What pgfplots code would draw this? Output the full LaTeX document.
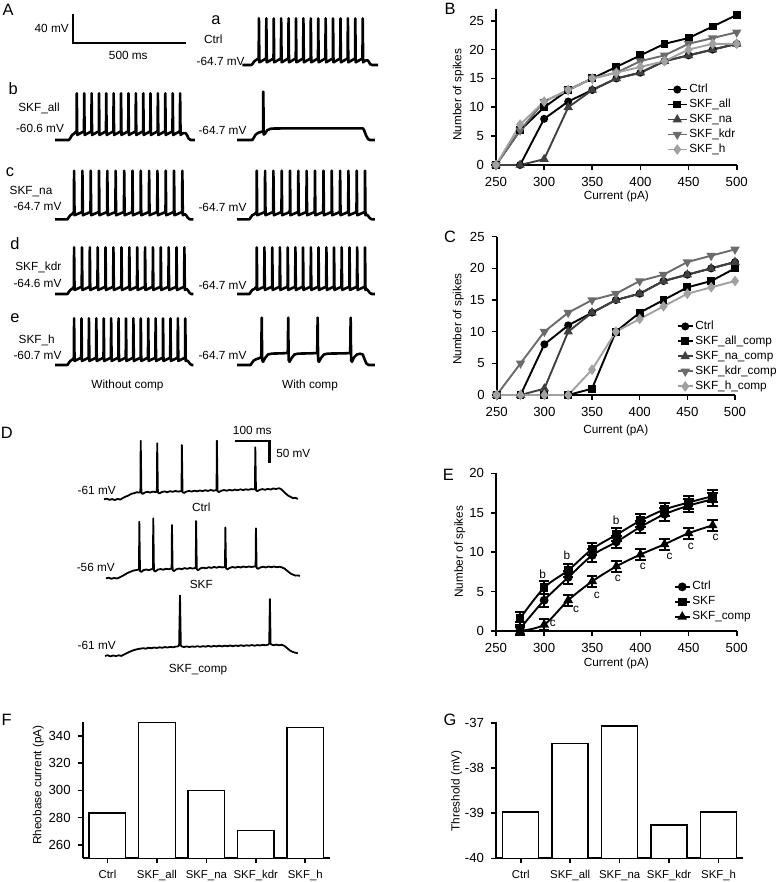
\documentclass[border=0pt]{standalone}
\usepackage{pgfplots}
\pgfplotsset{compat=1.18}
\usepackage{fontspec}
\setmainfont{Liberation Sans}
\definecolor{naC}{gray}{0.25}
\definecolor{kdrC}{gray}{0.42}
\definecolor{hC}{gray}{0.63}
\newcommand{\fs}{\fontsize{5.9}{7}\selectfont}
\newcommand{\fl}{\fontsize{8.2}{9}\selectfont}
\pgfplotsset{
  trace/.style={hide axis, scale only axis, clip=false, xmin=0, xmax=630, width=70.75pt, height=26.9pt, anchor=south west},
  dtrace/.style={hide axis, scale only axis, clip=false, xmin=0, xmax=580, width=98.6pt, height=32.92pt, anchor=south west},
  tr/.style={black, line width=1.3pt, line join=round, mark=none},
  dtr/.style={black, line width=0.9pt, line join=round, mark=none},
  gp/.style={scale only axis, anchor=south west, axis lines=left, axis line style={-, line width=1pt},
    tick align=outside, major tick length=2.5pt, tick style={black, line width=0.8pt},
    /pgf/number format/assume math mode=true,
    tick label style={font=\fontsize{6.6}{7}\selectfont},
    label style={font=\fs}},
  lp/.style={gp, xmin=250, xmax=500, xtick={250,300,...,500}, ymin=0, clip=false,
    xlabel={Current (pA)}, ylabel={Number of spikes},
    legend style={draw=none, fill=none, font=\fs, inner sep=0pt, row sep=0pt, anchor=north west,
      nodes={inner sep=0.8pt, text height=4.5pt, text depth=1.4pt}},
    legend cell align=left,
    every axis plot/.append style={line width=0.95pt}},
  bp/.style={gp, xmin=-0.5, xmax=4.5, xtick={0,1,2,3,4},
    xticklabels={Ctrl,SKF\_all,SKF\_na,SKF\_kdr,SKF\_h},
    x tick label style={font=\fontsize{5.7}{7}\selectfont}},
}
\begin{document}
\begin{tikzpicture}
\path[use as bounding box] (0,0) rectangle (390.5pt,-441pt);

% ---------------- Panel A ----------------
\begin{axis}[trace, at={(121.15pt,-34.3pt)}, ymin=-69.7, ymax=5.3]
\addplot[tr] coordinates {(0,-64.7)(40,-64.7)(46,-63)(52,-60)(60,-58)(73,-55.5)(74,0.3)(76,-61)(106,-55.5)(107,0.3)(109,-61)(139,-55.5)(140,0.3)(142,-61)(172,-55.5)(173,0.3)(175,-61)(205,-55.5)(206,0.3)(208,-61)(238,-55.5)(239,0.3)(241,-61)(271,-55.5)(272,0.3)(274,-61)(304,-55.5)(305,0.3)(307,-61)(337,-55.5)(338,0.3)(340,-61)(370,-55.5)(371,0.3)(373,-61)(403,-55.5)(404,0.3)(406,-61)(436,-55.5)(437,0.3)(439,-61)(469,-55.5)(470,0.3)(472,-61)(502,-55.5)(503,0.3)(505,-61)(535,-55.5)(536,0.3)(538,-61)(548,-58.5)(558,-58)(563,-60)(569,-63.5)(578,-64.7)(605,-64.7)};
\end{axis}
\begin{axis}[trace, at={(27.5pt,-71.8pt)}, ymin=-65.6, ymax=9.4]
\addplot[tr] coordinates {(0,-60.6)(62,-60.6)(68,-58)(75,-54)(85,-51.5)(96,-48.5)(97,4.5)(99,-53.5)(129,-48.5)(130,4.5)(132,-53.5)(162,-48.5)(163,4.5)(165,-53.5)(195,-48.5)(196,4.5)(198,-53.5)(227,-48.5)(228,4.5)(230,-53.5)(260,-48.5)(261,4.5)(263,-53.5)(293,-48.5)(294,4.5)(296,-53.5)(326,-48.5)(327,4.5)(329,-53.5)(359,-48.5)(360,4.5)(362,-53.5)(392,-48.5)(393,4.5)(395,-53.5)(424,-48.5)(425,4.5)(427,-53.5)(457,-48.5)(458,4.5)(460,-53.5)(490,-48.5)(491,4.5)(493,-53.5)(523,-48.5)(524,4.5)(526,-53.5)(556,-48.5)(557,4.5)(559,-53.5)(570,-51)(582,-51)(588,-54)(595,-58.5)(604,-60.6)(623,-60.6)};
\end{axis}
\begin{axis}[trace, at={(118.5pt,-71.8pt)}, ymin=-69.7, ymax=5.3]
\addplot[tr] coordinates {(0,-64.7)(68,-64.7)(74,-62)(82,-57.5)(95,-54.5)(112,-53)(116,-52)(117,2.6)(119,-57)(124,-56)(135,-51)(150,-49)(170,-48.6)(560,-48.4)(566,-51)(574,-58)(584,-63.5)(592,-64.7)(614,-64.7)};
\end{axis}
\begin{axis}[trace, at={(27.5pt,-111.45pt)}, ymin=-69.7, ymax=5.3]
\addplot[tr] coordinates {(0,-64.7)(55,-64.7)(61,-62)(68,-59)(76,-57.5)(84,-54.5)(85,3)(87,-59)(121,-54.5)(122,3)(124,-59)(158,-54.5)(159,3)(161,-59)(195,-54.5)(196,3)(198,-59)(232,-54.5)(233,3)(235,-59)(269,-54.5)(270,3)(272,-59)(307,-54.5)(308,3)(310,-59)(344,-54.5)(345,3)(347,-59)(381,-54.5)(382,3)(384,-59)(418,-54.5)(419,3)(421,-59)(455,-54.5)(456,3)(458,-59)(492,-54.5)(493,3)(495,-59)(529,-54.5)(530,3)(532,-59)(566,-54.5)(567,3)(569,-59)(578,-57.5)(584,-59)(591,-62.5)(600,-64.7)(616,-64.7)};
\end{axis}
\begin{axis}[trace, at={(118.5pt,-111.45pt)}, ymin=-69.7, ymax=5.3]
\addplot[tr] coordinates {(0,-64.7)(55,-64.7)(61,-62)(68,-59)(78,-57.5)(87,-54.5)(88,3)(90,-59)(124,-54.5)(125,3)(127,-59)(161,-54.5)(162,3)(164,-59)(198,-54.5)(199,3)(201,-59)(235,-54.5)(236,3)(238,-59)(272,-54.5)(273,3)(275,-59)(309,-54.5)(310,3)(312,-59)(346,-54.5)(347,3)(349,-59)(384,-54.5)(385,3)(387,-59)(421,-54.5)(422,3)(424,-59)(458,-54.5)(459,3)(461,-59)(495,-54.5)(496,3)(498,-59)(532,-54.5)(533,3)(535,-59)(569,-54.5)(570,3)(572,-59)(578,-58)(584,-60)(591,-63)(600,-64.7)(614,-64.7)};
\end{axis}
\begin{axis}[trace, at={(27.5pt,-148.8pt)}, ymin=-69.6, ymax=5.4]
\addplot[tr] coordinates {(0,-64.6)(55,-64.6)(61,-62)(68,-59)(76,-57.5)(84,-54.5)(85,0.5)(87,-59)(119,-54.5)(120,0.5)(122,-59)(154,-54.5)(155,0.5)(157,-59)(189,-54.5)(190,0.5)(192,-59)(224,-54.5)(225,0.5)(227,-59)(259,-54.5)(260,0.5)(262,-59)(295,-54.5)(296,0.5)(298,-59)(330,-54.5)(331,0.5)(333,-59)(365,-54.5)(366,0.5)(368,-59)(400,-54.5)(401,0.5)(403,-59)(435,-54.5)(436,0.5)(438,-59)(470,-54.5)(471,0.5)(473,-59)(505,-54.5)(506,0.5)(508,-59)(540,-54.5)(541,0.5)(543,-59)(575,-54.5)(576,0.5)(578,-59)(586,-57.5)(592,-59.5)(599,-63)(607,-64.6)(616,-64.6)};
\end{axis}
\begin{axis}[trace, at={(118.5pt,-148.8pt)}, ymin=-69.7, ymax=5.3]
\addplot[tr] coordinates {(0,-64.7)(55,-64.7)(61,-62)(68,-59)(78,-57.5)(87,-54.5)(88,0.3)(90,-59)(121,-54.5)(122,0.3)(124,-59)(156,-54.5)(157,0.3)(159,-59)(190,-54.5)(191,0.3)(193,-59)(225,-54.5)(226,0.3)(228,-59)(259,-54.5)(260,0.3)(262,-59)(293,-54.5)(294,0.3)(296,-59)(328,-54.5)(329,0.3)(331,-59)(362,-54.5)(363,0.3)(365,-59)(397,-54.5)(398,0.3)(400,-59)(431,-54.5)(432,0.3)(434,-59)(465,-54.5)(466,0.3)(468,-59)(500,-54.5)(501,0.3)(503,-59)(534,-54.5)(535,0.3)(537,-59)(569,-54.5)(570,0.3)(572,-59)(578,-58)(584,-60)(591,-63)(600,-64.7)(614,-64.7)};
\end{axis}
\begin{axis}[trace, at={(27.5pt,-184.3pt)}, ymin=-65.7, ymax=9.3]
\addplot[tr] coordinates {(0,-60.7)(55,-60.7)(61,-58)(68,-55)(76,-53.5)(84,-50.5)(85,4.3)(87,-55)(117,-50.5)(118,4.3)(120,-55)(150,-50.5)(151,4.3)(153,-55)(183,-50.5)(184,4.3)(186,-55)(216,-50.5)(217,4.3)(219,-55)(249,-50.5)(250,4.3)(252,-55)(282,-50.5)(283,4.3)(285,-55)(315,-50.5)(316,4.3)(318,-55)(348,-50.5)(349,4.3)(351,-55)(381,-50.5)(382,4.3)(384,-55)(414,-50.5)(415,4.3)(417,-55)(447,-50.5)(448,4.3)(450,-55)(480,-50.5)(481,4.3)(483,-55)(513,-50.5)(514,4.3)(516,-55)(546,-50.5)(547,4.3)(549,-55)(579,-50.5)(580,4.3)(582,-55)(588,-54.5)(594,-56)(601,-59)(609,-60.7)(616,-60.7)};
\end{axis}
\begin{axis}[trace, at={(118.5pt,-184.3pt)}, ymin=-69.7, ymax=5.3]
\addplot[tr] coordinates {(0,-64.7)(60,-64.7)(66,-62)(74,-58.5)(86,-56.5)(100,-55)(108,-53.5)(110,1.3)(112,-58)(116,-60.2)(125,-55)(138,-50)(155,-48.8)(200,-48.4)(226,-48)(228,1.3)(230,-58)(234,-60.2)(243,-55)(256,-50)(273,-48.8)(330,-48.4)(357,-48)(359,1.3)(361,-58)(365,-60.2)(374,-55)(387,-50)(404,-48.8)(480,-48.4)(504,-48)(506,1.3)(508,-58)(512,-60.2)(521,-54)(534,-50)(548,-49)(560,-50)(567,-56)(576,-62.5)(586,-64.7)(614,-64.7)};
\end{axis}

\draw[line width=1pt] (36.65pt,-7pt) -- (36.65pt,-21.35pt) -- (92.85pt,-21.35pt);
\begin{scope}[every node/.style={font=\fs, inner sep=0pt}]
\node at (25.85pt,-14.15pt) {40 mV};
\node at (64.15pt,-27.5pt) {500 ms};
\node at (106.65pt,-19.65pt) {Ctrl};
\node[anchor=east] at (122.5pt,-30.85pt) {-64.7 mV};
\node at (19.5pt,-54.15pt) {SKF\_all};
\node at (20pt,-64.15pt) {-60.6 mV};
\node at (111.25pt,-65pt) {-64.7 mV};
\node at (15.5pt,-95.85pt) {SKF\_na};
\node at (18.75pt,-103.35pt) {-64.7 mV};
\node at (111.25pt,-103.65pt) {-64.7 mV};
\node at (19.15pt,-133.65pt) {SKF\_kdr};
\node at (18.75pt,-141.65pt) {-64.6 mV};
\node at (111.25pt,-142.5pt) {-64.7 mV};
\node at (18.35pt,-170pt) {SKF\_h};
\node at (18.75pt,-177.85pt) {-60.7 mV};
\node at (111.25pt,-177.85pt) {-64.7 mV};
\node at (63.75pt,-192.5pt) {Without comp};
\node at (155pt,-192.5pt) {With comp};
% D
\node at (48.35pt,-245.35pt) {-61 mV};
\node at (100.65pt,-253.65pt) {Ctrl};
\node at (47.9pt,-283.65pt) {-56 mV};
\node at (100.65pt,-292pt) {SKF};
\node at (48.35pt,-322.5pt) {-61 mV};
\node at (99pt,-334.65pt) {SKF\_comp};
\node at (126.15pt,-215pt) {100 ms};
\node at (146.65pt,-226.65pt) {50 mV};
\end{scope}
\begin{scope}[every node/.style={font=\fl, inner sep=0pt}]
\node at (4pt,-5pt) {A};
\node at (108pt,-10pt) {a};
\node at (6.65pt,-44.15pt) {b};
\node at (5pt,-85.85pt) {c};
\node at (7.5pt,-121.65pt) {d};
\node at (7.5pt,-159.15pt) {e};
\node at (225pt,-4.65pt) {B};
\node at (225pt,-118.35pt) {C};
\node at (3.35pt,-216.65pt) {D};
\node at (224.15pt,-237.5pt) {E};
\node at (3.35pt,-360pt) {F};
\node at (225pt,-360pt) {G};
\end{scope}

% ---------------- Panel D ----------------
\draw[line width=1.2pt] (117.65pt,-220.35pt) -- (134.65pt,-220.35pt) -- (134.65pt,-231.65pt);
\begin{axis}[dtrace, at={(52pt,-250.8pt)}, ymin=-66, ymax=79]
\addplot[dtr] coordinates {(0,-61)(8,-59.5)(16,-62)(24,-60.5)(32,-62.5)(40,-60)(48,-61.5)(56,-58)(64,-55)(72,-52.5)(80,-49)(88,-47.5)(96,-45.5)(104,-46)(107,-44)(108,68.1)(110,-47)(114,-49)(120,-46)(128,-44.5)(136,-46)(144,-44)(152,-45)(155.5,-43)(156.5,62.3)(158.5,-46)(163,-48)(170,-45)(178,-43.5)(186,-45.5)(194,-43)(202,-44.5)(210,-42.5)(218,-44)(226,-43)(228,-42)(229,58.6)(231,-45)(235,-47)(242,-44)(250,-42.5)(258,-44)(266,-42)(274,-43.5)(282,-41.5)(290,-43)(298,-41)(306,-42.5)(314,-40.5)(322,-42)(329,-41)(331,-40)(332,68.1)(334,-43)(338,-45)(345,-42)(353,-40.5)(361,-42)(369,-40)(377,-41.5)(385,-39.5)(393,-41)(401,-39)(409,-40.5)(417,-39)(425,-40)(433,-38.5)(442,-39)(444,-38)(445,53.5)(447,-41)(451,-43)(458,-40)(466,-38.5)(474,-40)(482,-38)(490,-39.5)(498,-37)(506,-38.5)(514,-36.5)(520,-38)(526,-42)(534,-48)(542,-53)(550,-56)(556,-58.5)(562,-57.5)(570,-60)};
\end{axis}
\begin{axis}[dtrace, at={(53pt,-290.3pt)}, ymin=-61, ymax=84]
\addplot[dtr] coordinates {(0,-56)(8,-54.5)(16,-57)(24,-55)(32,-56.5)(40,-54)(48,-51)(56,-47.5)(64,-44)(72,-41.5)(80,-39)(88,-38)(95,-37)(97,-36)(98,68.7)(100,-40)(104,-42)(110,-38)(118,-36.5)(126,-38)(134,-36)(138,-35)(139,76)(141,-39)(145,-41)(152,-37)(160,-35.5)(168,-37)(176,-35)(184,-36)(192,-34.5)(193,-34)(194,61.4)(196,-38)(200,-40)(207,-36)(215,-34.5)(223,-36)(231,-33.5)(239,-35)(247,-33)(255,-34.5)(263,-33)(264,-32.5)(265,70.2)(267,-36)(271,-38)(278,-34)(286,-32.5)(294,-34)(302,-31.5)(310,-33)(318,-31)(326,-32.5)(334,-30.5)(342,-32)(350,-31)(351,56.3)(353,-34)(357,-36)(364,-33)(372,-31)(380,-32.5)(388,-30.5)(396,-32)(404,-30)(412,-31.5)(420,-30)(428,-31)(436,-30)(440,-29.5)(441,54.1)(443,-33)(447,-35)(454,-32)(462,-30.5)(470,-32)(478,-30)(486,-31.5)(494,-30)(502,-31.5)(510,-30.5)(518,-32)(526,-35)(534,-40)(542,-45)(550,-48)(558,-50)(565,-49.5)(570,-51)};
\end{axis}
\begin{axis}[dtrace, at={(52.5pt,-329.1pt)}, ymin=-66, ymax=79]
\addplot[dtr] coordinates {(0,-61)(8,-59.5)(16,-62)(24,-60)(32,-61.5)(40,-59.5)(48,-61)(56,-58)(64,-55)(72,-52)(80,-49.5)(88,-47.5)(96,-46)(104,-45)(112,-44)(120,-45)(128,-43)(136,-44)(144,-42.5)(152,-43.5)(160,-42)(168,-43)(176,-41.5)(184,-42.5)(192,-41)(200,-42)(208,-40.5)(214,-40)(218,-38)(220.6,71.8)(223,-38)(226,-40)(232,-41.5)(240,-40)(248,-41.5)(256,-40)(264,-41)(272,-39.5)(280,-41)(288,-39.5)(296,-40.5)(304,-39)(312,-40.5)(320,-39)(328,-40)(336,-38.5)(344,-40)(352,-38.5)(360,-39.5)(368,-38)(376,-39.5)(384,-38)(392,-39)(400,-37.5)(408,-39)(416,-37.5)(424,-38.5)(432,-37)(440,-38.5)(448,-37)(456,-38)(464,-36.5)(472,-37.5)(480,-36)(483,-34)(485,64.3)(487,-34)(490,-36)(496,-37.5)(504,-36)(512,-37.5)(520,-36.5)(528,-39)(536,-44)(544,-49)(552,-52)(560,-54)(567,-55)};
\end{axis}

% ---------------- Panel B ----------------
\begin{axis}[lp, at={(248pt,-82.5pt)}, width=120.35pt, height=77.9pt, ymax=27, ytick={0,5,...,25},
  ylabel style={at={(axis description cs:-0.157,0.45)}, anchor=center},
  xlabel style={at={(axis description cs:0.5,-0.205)}, anchor=center},
  legend style={at={(axis description cs:0.708,0.535)}},
  legend image code/.code={\draw[mark repeat=2,mark phase=2,#1] plot coordinates {(0pt,0pt) (4.75pt,0pt) (9.5pt,0pt)};}]
\addplot[black, mark=*, mark size=1.5pt] coordinates {(250,0)(275,0)(300,8)(325,11)(350,13)(375,15)(400,16)(425,18)(450,19)(475,20)(500,21)};
\addlegendentry{Ctrl}
\addplot[black, mark=square*, mark size=1.5pt] coordinates {(250,0)(275,6)(300,10)(325,13)(350,15)(375,17)(400,19)(425,21)(450,22)(475,24)(500,26)};
\addlegendentry{SKF\_all}
\addplot[naC, mark=triangle*, mark size=1.8pt] coordinates {(250,0)(275,0)(300,1)(325,10)(350,13)(375,15)(400,16)(425,18)(450,19)(475,20)(500,21)};
\addlegendentry{SKF\_na}
\addplot[kdrC, mark=triangle*, mark size=1.8pt, mark options={rotate=180}] coordinates {(250,0)(275,6)(300,11)(325,13)(350,15)(375,16)(400,18)(425,19)(450,21)(475,22)(500,23)};
\addlegendentry{SKF\_kdr}
\addplot[hC, mark=diamond*, mark size=1.9pt] coordinates {(250,0)(275,7)(300,11)(325,13)(350,15)(375,16)(400,17)(425,18)(450,20)(475,21)(500,21)};
\addlegendentry{SKF\_h}
\end{axis}

% ---------------- Panel C ----------------
\begin{axis}[lp, at={(248.35pt,-197.5pt)}, width=119.15pt, height=79.15pt, ymax=25, ytick={0,5,...,25},
  ylabel style={at={(axis description cs:-0.161,0.48)}, anchor=center},
  xlabel style={at={(axis description cs:0.5,-0.221)}, anchor=center},
  legend style={at={(axis description cs:0.754,0.483)}},
  legend image code/.code={\draw[mark repeat=2,mark phase=2,#1] plot coordinates {(0pt,0pt) (3.75pt,0pt) (7.5pt,0pt)};}]
\addplot[black, mark=*, mark size=1.5pt] coordinates {(250,0)(275,0)(300,8)(325,11)(350,13)(375,15)(400,16)(425,18)(450,19)(475,20)(500,21)};
\addlegendentry{Ctrl}
\addplot[black, mark=square*, mark size=1.5pt] coordinates {(250,0)(275,0)(300,0)(325,0)(350,1)(375,10)(400,13)(425,15)(450,17)(475,18)(500,20)};
\addlegendentry{SKF\_all\_comp}
\addplot[naC, mark=triangle*, mark size=1.8pt] coordinates {(250,0)(275,0)(300,1)(325,10)(350,13)(375,15)(400,16)(425,18)(450,19)(475,20)(500,21)};
\addlegendentry{SKF\_na\_comp}
\addplot[kdrC, mark=triangle*, mark size=1.8pt, mark options={rotate=180}] coordinates {(250,0)(275,5)(300,10)(325,13)(350,15)(375,16)(400,18)(425,19)(450,21)(475,22)(500,23)};
\addlegendentry{SKF\_kdr\_comp}
\addplot[hC, mark=diamond*, mark size=1.9pt] coordinates {(250,0)(275,0)(300,0)(325,0)(350,4)(375,10)(400,12)(425,14)(450,16)(475,17)(500,18)};
\addlegendentry{SKF\_h\_comp}
\end{axis}

% ---------------- Panel E ----------------
\begin{axis}[lp, at={(248pt,-315.5pt)}, width=120.35pt, height=78.85pt, ymax=20, ytick={0,5,...,20},
  ylabel style={at={(axis description cs:-0.15,0.503)}, anchor=center},
  xlabel style={at={(axis description cs:0.5,-0.205)}, anchor=center},
  legend style={at={(axis description cs:0.737,0.33)}},
  legend image code/.code={\draw[mark repeat=2,mark phase=2,#1] plot coordinates {(0pt,0pt) (3.75pt,0pt) (7.5pt,0pt)};}]
\addplot[black, smooth, tension=0.5, mark=*, mark size=1.7pt,
  error bars/.cd, y dir=both, y explicit, error bar style={line width=1pt}, error mark options={line width=1pt, mark size=2.6pt, rotate=90}]
  coordinates {(275,0.3) +- (0,0.8) (300,3.9) +- (0,0.8) (325,6.8) +- (0,0.8) (350,9.6) +- (0,0.8) (375,11.3) +- (0,0.8) (400,13.2) +- (0,0.8) (425,14.8) +- (0,0.8) (450,15.9) +- (0,0.8) (475,16.7) +- (0,0.8)};
\addlegendentry{Ctrl}
\addplot[black, smooth, tension=0.5, mark=square*, mark size=1.7pt,
  error bars/.cd, y dir=both, y explicit, error bar style={line width=1pt}, error mark options={line width=1pt, mark size=2.6pt, rotate=90}]
  coordinates {(275,1.6) +- (0,0.8) (300,5.5) +- (0,0.8) (325,7.7) +- (0,0.8) (350,10.4) +- (0,0.8) (375,12.2) +- (0,0.8) (400,14.0) +- (0,0.8) (425,15.4) +- (0,0.8) (450,16.3) +- (0,0.8) (475,17.1) +- (0,0.8)};
\addlegendentry{SKF}
\addplot[black, smooth, tension=0.5, mark=triangle*, mark size=1.9pt,
  error bars/.cd, y dir=both, y explicit, error bar style={line width=1pt}, error mark options={line width=1pt, mark size=2.6pt, rotate=90}]
  coordinates {(275,0) +- (0,0.5) (300,0.8) +- (0,0.7) (325,3.9) +- (0,0.7) (350,6.3) +- (0,0.7) (375,8.2) +- (0,0.7) (400,9.7) +- (0,0.7) (425,11.0) +- (0,0.7) (450,12.4) +- (0,0.7) (475,13.4) +- (0,0.7)};
\addlegendentry{SKF\_comp}
\node[font=\fs] at (axis cs:298.5,7.23) {b};
\node[font=\fs] at (axis cs:323.6,9.64) {b};
\node[font=\fs] at (axis cs:374.7,14.08) {b};
\node[font=\fs] at (axis cs:308.9,0.98) {c};
\node[font=\fs] at (axis cs:333.1,2.79) {c};
\node[font=\fs] at (axis cs:354.6,4.57) {c};
\node[font=\fs] at (axis cs:376.6,6.68) {c};
\node[font=\fs] at (axis cs:402.6,8.15) {c};
\node[font=\fs] at (axis cs:430.2,9.51) {c};
\node[font=\fs] at (axis cs:452.4,10.78) {c};
\node[font=\fs] at (axis cs:478.1,11.88) {c};
\end{axis}

% ---------------- Panel F ----------------
\begin{axis}[bp, at={(41.35pt,-429.15pt)}, width=123.65pt, height=68.3pt, ymin=250, ymax=350.5,
  ytick={260,280,...,340}, ylabel={Rheobase current (pA)},
  ylabel style={at={(axis description cs:-0.179,0.537)}, anchor=center}]
\addplot[ybar, bar width=18.35pt, draw=black, fill=white, line width=0.7pt] coordinates {(0,283.3) (1,350) (2,300) (3,270.4) (4,346.2)};
\end{axis}

% ---------------- Panel G ----------------
\begin{axis}[bp, at={(248pt,-429.15pt)}, width=123.65pt, height=68pt, ymin=0, ymax=3.02,
  ytick={0,1,2,3}, yticklabels={-40,-39,-38,-37}, ylabel={Threshold (mV)},
  ylabel style={at={(axis description cs:-0.159,0.496)}, anchor=center}]
\addplot[ybar, bar width=18pt, draw=black, fill=white, line width=0.7pt, y filter/.expression={y+40}] coordinates {(0,-38.97) (1,-37.45) (2,-37.06) (3,-39.26) (4,-38.97)};
\end{axis}
\end{tikzpicture}
\end{document}
